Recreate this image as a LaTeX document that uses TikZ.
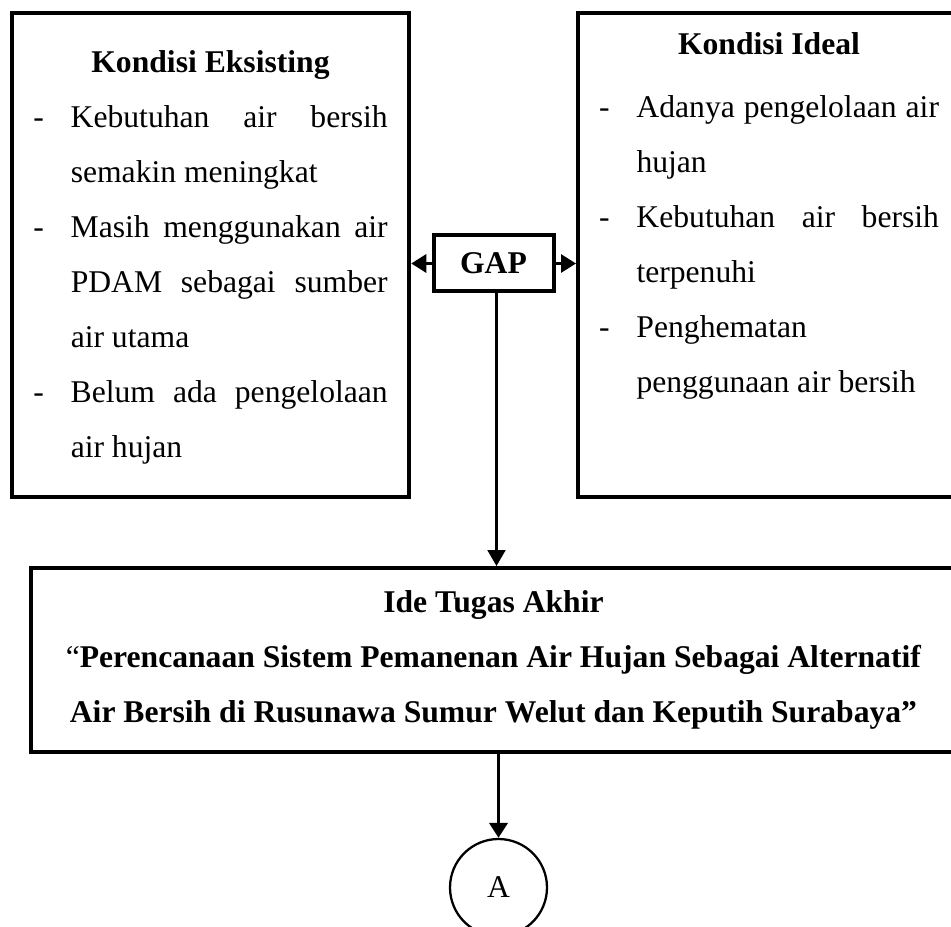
\documentclass[tikz,border=0pt]{standalone}
\usepackage{fontspec}
\setmainfont{Liberation Serif}
\usetikzlibrary{arrows.meta}

\newcommand{\judul}[1]{\noindent\makebox[\linewidth]{\strut\textbf{#1}}\par}
\newcommand{\butir}[1]{\noindent\hangindent=0.75cm\hangafter=1\makebox[0.75cm][l]{-}#1\par}

\begin{document}
\begin{tikzpicture}[
    tbox/.style={rectangle, draw, line width=0.08cm, font=\fontsize{18}{31.3}\selectfont},
    gbox/.style={tbox, minimum width=2.4cm, minimum height=1.12cm, inner sep=0pt},
    cnode/.style={circle, draw, line width=1.3pt, minimum size=1.94cm, inner sep=0pt,
                  font=\fontsize{18}{31.3}\selectfont},
    harr/.style={-{Triangle[length=0.3cm, width=0.36cm]}, line width=1.7pt},
    varr/.style={-{Triangle[length=0.32cm, width=0.36cm]}, line width=1.2pt},
  ]
  \clip (0,0) rectangle (19.02,-18.54);

  % --- kondisi boxes (top) ---
  \node[tbox, inner xsep=0.43cm, inner ysep=0.41cm] (eks) at (4.21,-5.10)
    {\parbox[c][8.86cm][t]{7.09cm}{\parskip=0pt
      \judul{Kondisi Eksisting}
      \butir{Kebutuhan air bersih\linebreak semakin meningkat}
      \butir{Masih menggunakan air\linebreak PDAM sebagai sumber\linebreak air utama}
      \butir{Belum ada pengelolaan\linebreak air hujan}}};
  \node[tbox, inner xsep=0.42cm, inner ysep=0.05cm] (ideal) at (15.38,-5.10)
    {\parbox[c][9.58cm][t]{6.8cm}{\parskip=0pt
      \judul{Kondisi Ideal}\vspace{0.16cm}
      \butir{Adanya pengelolaan air\linebreak hujan}
      \butir{Kebutuhan air bersih\linebreak terpenuhi}
      \butir{Penghematan\newline penggunaan air bersih}}};

  \node[gbox] (gap) at (9.87,-5.27) {\textbf{GAP}};

  \draw[harr] (gap.west) -- (gap.west -| eks.east);
  \draw[harr] (gap.east) -- (gap.east -| ideal.west);

  % --- ide tugas akhir ---
  \node[tbox, minimum width=18.5cm, minimum height=3.68cm, align=center, inner sep=0pt]
    (ide) at (9.87,-13.2)
    {\textbf{Ide Tugas Akhir}\\
     “\textbf{Perencanaan Sistem Pemanenan Air Hujan Sebagai Alternatif}\\
     \textbf{Air Bersih di Rusunawa Sumur Welut dan Keputih Surabaya”}};

  \draw[varr] ([xshift=0.06cm]gap.south) -- ([xshift=0.06cm]gap.south |- ide.north);

  % --- connector A ---
  \node[cnode] (A) at (9.97,-17.75) {A};
  \draw[harr, line width=2.2pt] (A.north |- ide.south) -- (A.north);

\end{tikzpicture}
\end{document}
